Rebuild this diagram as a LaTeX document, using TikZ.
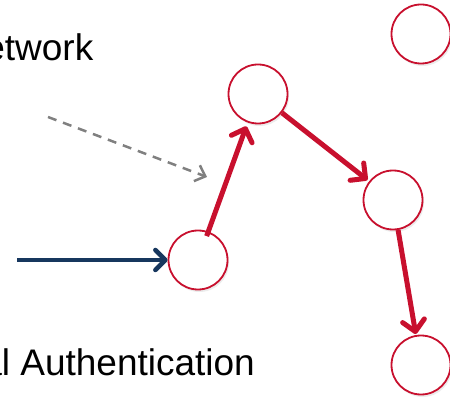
\documentclass[tikz,border=0pt]{standalone}
\usepackage{fontspec}
\setmainfont{Liberation Sans}
\usetikzlibrary{arrows.meta,shadows}

\definecolor{authred}{RGB}{200,16,46}
\definecolor{authblue}{RGB}{23,55,94}
\definecolor{authgray}{RGB}{128,128,128}

\begin{document}
\begin{tikzpicture}[x=1pt,y=-1pt,semithick]
  \tikzstyle{host}=[circle,draw=authred,line width=1.8pt,fill=white,minimum size=59pt,inner sep=0pt,
    drop shadow={opacity=0.15,shadow xshift=1.5pt,shadow yshift=-2.5pt}]
  \tikzstyle{hop}=[draw=authred,line width=5pt,-{Straight Barb[length=11pt,width=22pt,round]}]
  \tikzstyle{login}=[draw=authblue,line width=4.5pt,-{Straight Barb[length=10pt,width=20pt,round]}]
  \tikzstyle{sneak}=[draw=authgray,line width=2.5pt,dash pattern=on 9pt off 7pt,-{Straight Barb[length=9pt,width=17pt]}]
  \tikzstyle{caption}=[anchor=base west,inner sep=0pt,font=\fontsize{37}{44}\selectfont]

  \useasboundingbox (0,0) rectangle (450,398);

  \node[caption] (net)  at (-16,61)  {etwork};
  \node[caption] (auth) at (-19,375) {al Authentication};

  \node[host] (first)  at (198,260) {};
  \node[host] (second) at (258,94)  {};
  \node[host] (third)  at (393,200) {};
  \node[host] (fourth) at (421,365) {};
  \node[host] (spare)  at (421,34)  {};

  \coordinate (user)     at (17,260);
  \coordinate (attacker) at (48,117);
  \coordinate (probe)    at (207,177);

  \draw[login] (user) -- (first);
  \draw[sneak] (attacker) -- (probe);

  \path (first)  edge [hop,shorten <=-5pt,shorten >=4pt] (second)
        (second) edge [hop,shorten >=2pt] (third)
        (third)  edge [hop,shorten >=1pt] (fourth)
        ;
\end{tikzpicture}
\end{document}
